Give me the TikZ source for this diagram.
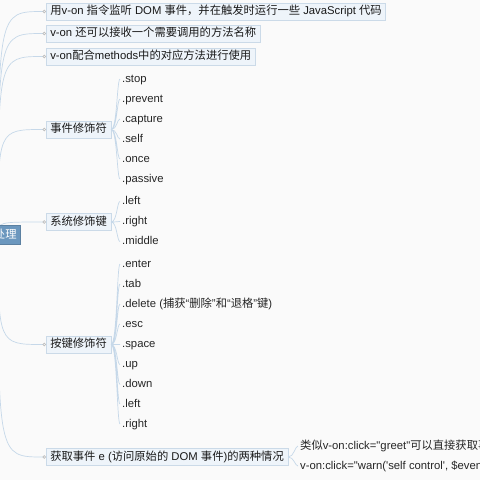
\documentclass[tikz,border=0pt]{standalone}
\usepackage{fontspec}
\newfontfamily\latin{Liberation Sans}
\newfontfamily\cjkfont{Noto Sans CJK SC}
\newcommand\zh[1]{{\cjkfont #1}}
\usetikzlibrary{arrows.meta}
\definecolor{linecol}{HTML}{C6D8E9}
\definecolor{boxfill}{HTML}{EEF4FA}
\definecolor{boxline}{HTML}{CBDAE8}
\definecolor{rootfill}{HTML}{6B97BE}
\definecolor{paper}{HTML}{FAFAFA}

\begin{document}
\begin{tikzpicture}[x=1pt,y=-1pt,
    every node/.style={font=\latin\fontsize{11.3}{13}\selectfont, text height=8.5pt, text depth=2.5pt},
    root/.style={fill=rootfill, draw=rootfill!85!black, text=white, inner xsep=4pt, inner ysep=4pt},
    topic/.style={anchor=west, fill=boxfill, draw=boxline, line width=0.6pt, inner xsep=4pt, inner ysep=3pt, text=black!90},
    leaf/.style={anchor=west, inner xsep=2pt, inner ysep=1pt, text=black!85},
    branch/.style={draw=linecol, line width=0.7pt, -{Circle[open,length=3.4pt,fill=white,color=black!25]},
      to path={.. controls (\tikztostart |- \tikztotarget) .. (\tikztotarget)}},
    twig/.style={draw=linecol, line width=0.7pt, out=0, in=180, out distance=6pt, in distance=3pt}]
    \useasboundingbox (0,0) rectangle (480,480);
    \clip (0,0) rectangle (480,480);
    \fill[paper] (0,0) rectangle (480,480);
    \coordinate (c0) at (-2,235);
    % first level
    \node[topic] (a1) at (46,11.5) {\zh{用}v-on \zh{指令监听} DOM \zh{事件，并在触发时运行一些} JavaScript \zh{代码}};
    \node[topic] (a2) at (46,33.5) {v-on \zh{还可以接收一个需要调用的方法名称}};
    \node[topic] (a3) at (46,56.5) {v-on\zh{配合}methods\zh{中的对应方法进行使用}};
    \node[topic] (a4) at (46,129.5) {\zh{事件修饰符}};
    \node[topic] (a5) at (46,222) {\zh{系统修饰键}};
    \node[topic] (a6) at (46,344.5) {\zh{按键修饰符}};
    \node[topic] (a7) at (46,457) {\zh{获取事件} e (\zh{访问原始的} DOM \zh{事件})\zh{的两种情况}};
    % event modifiers
    \node[leaf] (b1) at (120,79) {.stop};
    \node[leaf] (b2) at (120,99) {.prevent};
    \node[leaf] (b3) at (120,119) {.capture};
    \node[leaf] (b4) at (120,139) {.self};
    \node[leaf] (b5) at (120,159) {.once};
    \node[leaf] (b6) at (120,179) {.passive};
    % system keys
    \node[leaf] (c1) at (120,201.5) {.left};
    \node[leaf] (c2) at (120,221.5) {.right};
    \node[leaf] (c3) at (120,241.5) {.middle};
    % key modifiers
    \node[leaf] (d1) at (120,264) {.enter};
    \node[leaf] (d2) at (120,284) {.tab};
    \node[leaf] (d3) at (120,304) {.delete (\zh{捕获}“\zh{删除}”\zh{和}“\zh{退格}”\zh{键})};
    \node[leaf] (d4) at (120,324) {.esc};
    \node[leaf] (d5) at (120,344.5) {.space};
    \node[leaf] (d6) at (120,364.5) {.up};
    \node[leaf] (d7) at (120,384.5) {.down};
    \node[leaf] (d8) at (120,404) {.left};
    \node[leaf] (d9) at (120,424) {.right};
    % event object
    \node[leaf] (e1) at (298,446) {\zh{类似}v-on:click="greet"\zh{可以直接获取事件对象}};
    \node[leaf] (e2) at (298,466) {v-on:click="warn('self control', \$event)"};
    % connectors
    \draw[branch] (c0) to (a1.west);
    \draw[branch] (c0) to (a2.west);
    \draw[branch] (c0) to (a3.west);
    \draw[branch] (c0) to (a4.west);
    \draw[branch] (c0) to (a5.west);
    \draw[branch] (c0) to (a6.west);
    \draw[branch] (c0) to (a7.west);
    \draw[twig] (a4.east) to (b1.west) (a4.east) to (b2.west) (a4.east) to (b3.west)
      (a4.east) to (b4.west) (a4.east) to (b5.west) (a4.east) to (b6.west);
    \draw[twig] (a5.east) to (c1.west) (a5.east) to (c2.west) (a5.east) to (c3.west);
    \draw[twig] (a6.east) to (d1.west) (a6.east) to (d2.west) (a6.east) to (d3.west)
      (a6.east) to (d4.west) (a6.east) to (d5.west) (a6.east) to (d6.west)
      (a6.east) to (d7.west) (a6.east) to (d8.west) (a6.east) to (d9.west);
    \draw[twig] (a7.east) to (e1.west) (a7.east) to (e2.west);
    \node[root] (r0) at (-6,235) {\zh{事件处理}};
\end{tikzpicture}
\end{document}
